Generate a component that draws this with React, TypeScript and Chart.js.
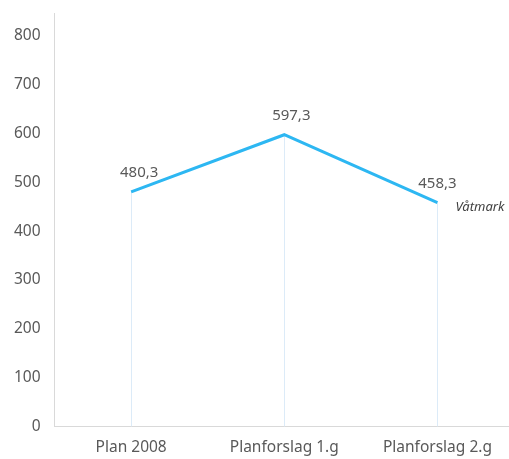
import React, { useEffect, useRef } from "react";
import { Chart, registerables } from "chart.js";

Chart.register(...registerables);

const categories = ["Plan 2008", "Planforslag 1.g", "Planforslag 2.g"];
const seriesName = "Våtmark";
const values = [480.3, 597.3, 458.3];
const yMax = 846;
const yStep = 100;

const FONT = "'Noto Sans', sans-serif";
const TEXT = "#595959";
const LINE = "#2DB7F2";
const labelShift = [8, 7, 0];

const fmt = (v: number) => v.toFixed(1).replace(".", ",");

const overlay = {
  id: "overlay",
  beforeDatasetsDraw(chart: any) {
    const { ctx, scales } = chart;
    const x = scales.x;
    const y = scales.y;
    ctx.save();
    ctx.strokeStyle = "#DCEBF8";
    ctx.lineWidth = 1;
    values.forEach((v, i) => {
      const px = Math.round(x.getPixelForValue(i)) + 0.5;
      ctx.beginPath();
      ctx.moveTo(px, y.getPixelForValue(v));
      ctx.lineTo(px, y.getPixelForValue(0));
      ctx.stroke();
    });
    ctx.restore();
  },
  afterDatasetsDraw(chart: any) {
    const { ctx, scales } = chart;
    const x = scales.x;
    const y = scales.y;
    ctx.save();
    ctx.fillStyle = TEXT;
    ctx.font = `15px ${FONT}`;
    ctx.textAlign = "center";
    ctx.textBaseline = "middle";
    values.forEach((v, i) => {
      ctx.fillText(fmt(v), x.getPixelForValue(i) + labelShift[i], y.getPixelForValue(v) - 19);
    });
    const li = values.length - 1;
    ctx.font = `italic 13px ${FONT}`;
    ctx.textAlign = "left";
    ctx.fillStyle = "#404040";
    ctx.fillText(seriesName, x.getPixelForValue(li) + 18, y.getPixelForValue(values[li]) + 5);
    ctx.restore();
  },
};

export default function App() {
  const ref = useRef<HTMLCanvasElement>(null);
  useEffect(() => {
    document.body.style.margin = "0";
    document.body.style.overflow = "hidden";
    document.documentElement.style.overflow = "hidden";
    const chart = new Chart(ref.current!, {
      type: "line",
      data: {
        labels: categories,
        datasets: [
          {
            label: seriesName,
            data: values,
            borderColor: LINE,
            borderWidth: 3,
            pointRadius: 0,
            tension: 0,
          },
        ],
      },
      plugins: [overlay],
      options: {
        animation: false,
        responsive: false,
        devicePixelRatio: 1,
        layout: { padding: { top: -1, left: 0, right: 0, bottom: -10 } },
        plugins: { legend: { display: false }, tooltip: { enabled: false } },
        scales: {
          x: {
            offset: true,
            grid: { display: false, drawTicks: false },
            border: { display: true, color: "#D9D9D9", width: 1 },
            ticks: { color: TEXT, font: { family: FONT, size: 15.5 }, padding: 12 },
          },
          y: {
            min: 0,
            max: yMax,
            afterBuildTicks: (s: any) => {
              s.ticks = s.ticks.filter((t: any) => t.value % yStep === 0);
            },
            ticks: { stepSize: yStep, color: TEXT, font: { family: FONT, size: 15.5 }, padding: 14 },
            grid: { display: false, drawTicks: false },
            border: { display: true, color: "#D9D9D9", width: 1 },
          },
        },
      },
    });
    return () => chart.destroy();
  }, []);
  return (
    <canvas
      ref={ref}
      width={514}
      height={469}
      style={{ display: "block", marginTop: -10 }}
    />
  );
}
